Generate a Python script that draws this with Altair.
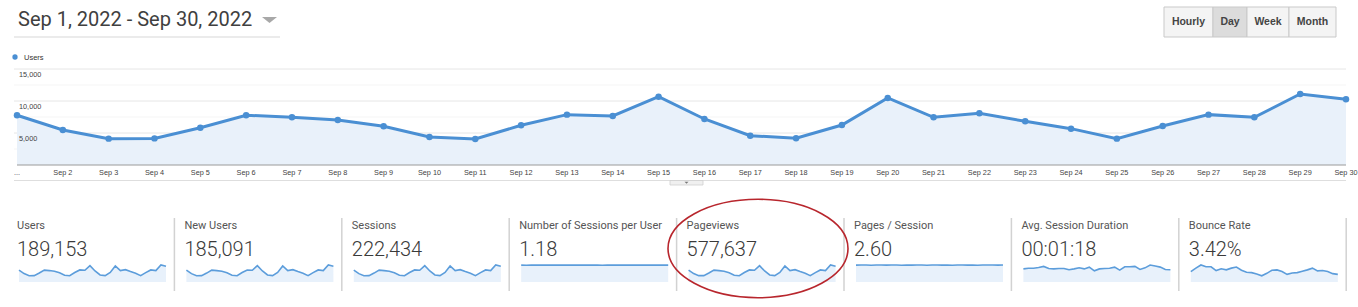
import altair as alt
import pandas as pd

# ---------------- data ----------------
days = list(range(1, 31))
day_labels = ["..."] + ["Sep %d" % d for d in range(2, 31)]

users = [7770, 5470, 4120, 4160, 5830, 7770, 7450, 7030, 6040, 4380,
         4060, 6200, 7870, 7660, 10680, 7190, 4580, 4170, 6250, 10470,
         7450, 8070, 6820, 5680, 4120, 6090, 7870, 7450, 11090, 10260]

new_users = [7610, 5360, 4040, 4080, 5710, 7610, 7300, 6890, 5920, 4290,
             3980, 6080, 7710, 7510, 10470, 7050, 4490, 4090, 6130, 10260,
             7300, 7910, 6680, 5570, 4040, 5970, 7710, 7300, 10870, 10050]

sessions = [9170, 6450, 4860, 4910, 6880, 9170, 8790, 8300, 7130, 5170,
            4790, 7320, 9290, 9040, 12600, 8480, 5400, 4920, 7380, 12350,
            8790, 9520, 8050, 6700, 4860, 7190, 9290, 8790, 13090, 12110]

sessions_per_user = [1.18, 1.17, 1.18, 1.18, 1.18, 1.18, 1.18, 1.18, 1.19, 1.18,
                     1.18, 1.18, 1.18, 1.18, 1.18, 1.18, 1.17, 1.18, 1.18, 1.18,
                     1.18, 1.18, 1.18, 1.18, 1.18, 1.18, 1.18, 1.18, 1.18, 1.18]

pageviews = [23700, 16700, 12600, 12700, 17800, 23700, 22700, 21400, 18400, 13400,
             12400, 18900, 24000, 23400, 32600, 21900, 14000, 12700, 19100, 31900,
             22700, 24600, 20800, 17300, 12600, 18600, 24000, 22700, 33800, 31300]

pages_per_session = [2.59, 2.61, 2.60, 2.58, 2.60, 2.61, 2.59, 2.60, 2.61, 2.58,
                     2.60, 2.59, 2.61, 2.60, 2.58, 2.60, 2.61, 2.59, 2.60, 2.57,
                     2.60, 2.61, 2.59, 2.60, 2.58, 2.60, 2.61, 2.60, 2.59, 2.60]

avg_duration_s = [74, 78, 78, 82, 88, 76, 74, 76, 76, 69,
                  74, 80, 74, 84, 63, 74, 76, 78, 84, 67,
                  86, 86, 88, 71, 80, 96, 90, 84, 71, 69]

bounce_rate = [3.16, 4.21, 5.16, 4.63, 4.63, 3.47, 4.00, 3.68, 4.21, 4.53,
               3.58, 2.95, 2.84, 2.42, 1.89, 2.63, 3.58, 3.68, 3.16, 2.32,
               2.74, 2.84, 3.26, 3.68, 4.21, 3.37, 3.47, 3.16, 2.53, 2.32]

card_titles = ["Users", "New Users", "Sessions", "Number of Sessions per User",
               "Pageviews", "Pages / Session", "Avg. Session Duration", "Bounce Rate"]
card_values = ["189,153", "185,091", "222,434", "1.18",
               "577,637", "2.60", "00:01:18", "3.42%"]
card_series = [users, new_users, sessions, sessions_per_user,
               pageviews, pages_per_session, avg_duration_s, bounce_rate]

y_ticks = [5000, 10000, 15000]
y_tick_labels = ["5,000", "10,000", "15,000"]
y_minor = [2500, 7500, 12500]

date_range_title = "Sep 1, 2022 - Sep 30, 2022"
button_labels = ["Hourly", "Day", "Week", "Month"]
legend_label = "Users"

# ---------------- style ----------------
BLUE = "#4a8fd3"
FILL = "#e9f1fa"
SPARK_LINE = "#5c9ddb"
SPARK_FILL = "#e8f1fb"
TXT = "#3c3c3c"
ARIAL = "Liberation Sans"
ROBOTO = "Roboto"

X0, X1 = 17, 1346
Y_BASE, Y_TOP = 165, 69
PANEL_W = 167.4
BUTTON_EDGES = [1164, 1213, 1247, 1289, 1336]
SELECTED = "Day"

one = pd.DataFrame({"k": [0]})
layers = []

# ---------------- header ----------------
layers.append(alt.Chart(one).mark_text(
    text=date_range_title, font=ROBOTO, fontSize=20, color="#404040",
    align="left", baseline="alphabetic").encode(x=alt.value(18), y=alt.value(26)))
layers.append(alt.Chart(one).mark_point(
    shape="M -1 -0.4 L 1 -0.4 L 0 0.4 Z", size=225, filled=True,
    color="#a8a8a8", opacity=1).encode(x=alt.value(269.5), y=alt.value(20)))
layers.append(alt.Chart(one).mark_rule(color="#ebebeb", strokeWidth=2).encode(
    x=alt.value(14), x2=alt.value(280), y=alt.value(37)))

for i, lab in enumerate(button_labels):
    xa, xb = BUTTON_EDGES[i], BUTTON_EDGES[i + 1]
    fill = "#dcdcdc" if lab == SELECTED else "#f4f4f4"
    layers.append(alt.Chart(one).mark_rect(fill=fill, stroke="#c9c9c9", strokeWidth=1).encode(
        x=alt.value(xa), x2=alt.value(xb), y=alt.value(7), y2=alt.value(37)))
    layers.append(alt.Chart(one).mark_text(
        text=lab, font=ARIAL, fontSize=10.5, fontWeight="bold", color="#444",
        align="center", baseline="middle").encode(x=alt.value((xa + xb) / 2), y=alt.value(21.5)))

# legend
layers.append(alt.Chart(one).mark_point(filled=True, size=28, color=BLUE, opacity=1,
                                        shape="circle").encode(x=alt.value(15), y=alt.value(57)))
layers.append(alt.Chart(one).mark_text(
    text=legend_label, font=ARIAL, fontSize=7.5, color="#333",
    align="left", baseline="middle").encode(x=alt.value(24), y=alt.value(57.5)))

# ---------------- main chart ----------------
xs = alt.Scale(domain=[1, 30], range=[X0, X1], nice=False, zero=False)
ys = alt.Scale(domain=[0, 15000], range=[Y_BASE, Y_TOP], nice=False)

main_df = pd.DataFrame({"day": days, "users": users, "label": day_labels})
grid_df = pd.DataFrame({"v": y_ticks, "t": y_tick_labels})
minor_df = pd.DataFrame({"v": y_minor})

layers.append(alt.Chart(minor_df).mark_rule(color="#f5f5f5", strokeWidth=1).encode(
    y=alt.Y("v:Q", scale=ys, axis=None), x=alt.value(14), x2=alt.value(1346)))
layers.append(alt.Chart(grid_df).mark_rule(color="#e6e6e6", strokeWidth=1).encode(
    y=alt.Y("v:Q", scale=ys, axis=None), x=alt.value(14), x2=alt.value(1346)))

layers.append(alt.Chart(main_df).mark_area(color=FILL, opacity=1).encode(
    x=alt.X("day:Q", scale=xs, axis=None),
    y=alt.Y("users:Q", scale=ys, axis=None),
    y2=alt.datum(0)))
layers.append(alt.Chart(grid_df).mark_text(
    font=ARIAL, fontSize=7.3, color="#444", align="left", baseline="middle", dy=6).encode(
    y=alt.Y("v:Q", scale=ys, axis=None), x=alt.value(19), text="t:N"))
layers.append(alt.Chart(main_df).mark_line(color=BLUE, strokeWidth=3).encode(
    x=alt.X("day:Q", scale=xs, axis=None),
    y=alt.Y("users:Q", scale=ys, axis=None)))
layers.append(alt.Chart(main_df).mark_point(filled=True, size=42, color=BLUE, opacity=1).encode(
    x=alt.X("day:Q", scale=xs, axis=None),
    y=alt.Y("users:Q", scale=ys, axis=None)))
layers.append(alt.Chart(one).mark_rule(color="#9a9a9a", strokeWidth=1).encode(
    x=alt.value(X0), x2=alt.value(X1), y=alt.value(Y_BASE)))
layers.append(alt.Chart(main_df).mark_text(
    font=ARIAL, fontSize=7.3, color="#444", align="center", baseline="middle").encode(
    x=alt.X("day:Q", scale=xs, axis=None), y=alt.value(173), text="label:N"))

# bottom separator + collapse tab
layers.append(alt.Chart(one).mark_rule(color="#dedede", strokeWidth=1).encode(
    x=alt.value(14), x2=alt.value(1346), y=alt.value(180.5)))
layers.append(alt.Chart(one).mark_rect(fill="#f0f0f0", stroke="#cfcfcf", strokeWidth=0.8).encode(
    x=alt.value(670), x2=alt.value(703), y=alt.value(180.5), y2=alt.value(185)))
layers.append(alt.Chart(one).mark_point(
    shape="M -1 -0.5 L 1 -0.5 L 0 0.5 Z", size=16, filled=True, color="#777", opacity=1).encode(
    x=alt.value(686.5), y=alt.value(182.8)))

# ---------------- scorecards ----------------
cards_df = pd.DataFrame({"idx": list(range(8)), "title": card_titles, "value": card_values})
card_x = alt.Scale(domain=[0, 8], range=[17, 17 + PANEL_W * 8], nice=False, zero=False)
div_x = alt.Scale(domain=[0, 8], range=[7, 7 + PANEL_W * 8], nice=False, zero=False)
div_df = pd.DataFrame({"idx": list(range(1, 9))})

layers.append(alt.Chart(div_df).mark_rule(color="#d2d2d2", strokeWidth=1.5).encode(
    x=alt.X("idx:Q", scale=div_x, axis=None), y=alt.value(218), y2=alt.value(291)))
layers.append(alt.Chart(cards_df).mark_text(
    font=ROBOTO, fontSize=11, color="#555", align="left", baseline="alphabetic").encode(
    x=alt.X("idx:Q", scale=card_x, axis=None), y=alt.value(229), text="title:N"))
layers.append(alt.Chart(cards_df).mark_text(
    font=ROBOTO, fontSize=20, fontWeight=300, color="#3a3a3a", align="left",
    baseline="alphabetic").encode(
    x=alt.X("idx:Q", scale=card_x, axis=None), y=alt.value(256), text="value:N"))

for i, series in enumerate(card_series):
    left = 19 + PANEL_W * i
    right = 166 + PANEL_W * i
    sdf = pd.DataFrame({"day": days, "v": series})
    sx = alt.Scale(domain=[1, 30], range=[left, right], nice=False, zero=False)
    sy = alt.Scale(zero=True, nice=False, range=[282, 265])
    layers.append(alt.Chart(sdf).mark_area(color=SPARK_FILL, opacity=1).encode(
        x=alt.X("day:Q", scale=sx, axis=None),
        y=alt.Y("v:Q", scale=sy, axis=None),
        y2=alt.datum(0)))
    layers.append(alt.Chart(sdf).mark_line(color=SPARK_LINE, strokeWidth=1.6).encode(
        x=alt.X("day:Q", scale=sx, axis=None),
        y=alt.Y("v:Q", scale=sy, axis=None)))

# red annotation ellipse around Pageviews
ELLIPSE = ("M 1 0 C 1 0.302 0.5523 0.547 0 0.547 C -0.5523 0.547 -1 0.302 -1 0 "
           "C -1 -0.302 -0.5523 -0.547 0 -0.547 C 0.5523 -0.547 1 -0.302 1 0 Z")
layers.append(alt.Chart(one).mark_point(
    shape=ELLIPSE, size=180 * 180, filled=False, color="#b8262d",
    strokeWidth=1.6, opacity=1).encode(x=alt.value(758), y=alt.value(248.5)))

chart = alt.layer(*layers).resolve_scale(
    x="independent", y="independent"
).properties(
    width=1358, height=307, padding=0,
    autosize=alt.AutoSizeParams(type="none"),
    background="white",
).configure_view(stroke=None)

chart.save("out.html", embed_options={"renderer": "svg", "actions": False})
